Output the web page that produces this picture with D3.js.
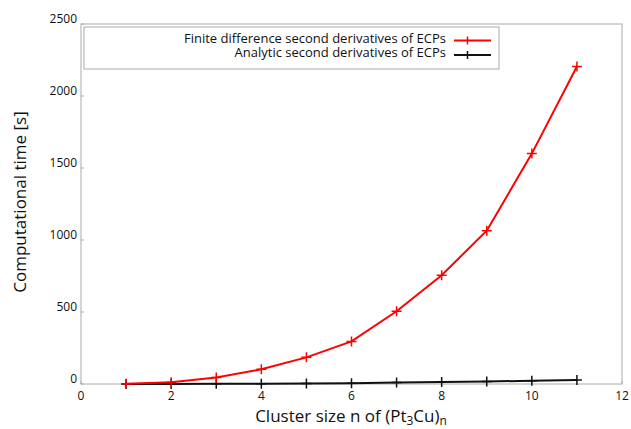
<!DOCTYPE html>
<html>
<head>
<meta charset="utf-8">
<script src="https://cdn.jsdelivr.net/npm/d3@7"></script>
<style>
  body { margin: 0; background: #fff; }
  svg text { font-family: "Open Sans", "Noto Sans", sans-serif; fill: #111; }
</style>
</head>
<body>
<div id="chart"></div>
<script>
// cluster sizes n and timings [s]
var clusterSizes = [1, 2, 3, 4, 5, 6, 7, 8, 9, 10, 11];
var finiteDiffTimes = [2, 12, 45, 102, 185, 296, 505, 755, 1065, 1600, 2205];
var analyticTimes = [0.2, 0.5, 1, 2, 4, 6, 10, 14, 18, 22, 27];
var xTicks = [0, 2, 4, 6, 8, 10, 12];
var yTicks = [0, 500, 1000, 1500, 2000, 2500];
var seriesNames = ["Finite difference second derivatives of ECPs", "Analytic second derivatives of ECPs"];

var W = 631, H = 429;
var m = {left: 81, right: 9, top: 24, bottom: 45};

var svg = d3.select('#chart').append('svg')
    .attr('width', W).attr('height', H);

var x = d3.scaleLinear().domain([0, 12]).range([m.left, W - m.right]);
var y = d3.scaleLinear().domain([0, 2500]).range([H - m.bottom, m.top]);

// frame
svg.append('rect')
    .attr('x', x(0)).attr('y', y(2500))
    .attr('width', x(12) - x(0)).attr('height', y(0) - y(2500))
    .attr('fill', 'none').attr('stroke', '#aaa').attr('stroke-width', 1);

// ticks (inside, short) and labels
var tickCol = '#aaa';
var xAxis = svg.append('g');
xTicks.forEach(function (t) {
    xAxis.append('line')
        .attr('x1', x(t)).attr('x2', x(t))
        .attr('y1', y(0)).attr('y2', y(0) - 3)
        .attr('stroke', tickCol);
    xAxis.append('text')
        .attr('x', x(t)).attr('y', y(0) + 16)
        .attr('text-anchor', 'middle')
        .attr('font-size', 12)
        .text(t);
});
var yAxis = svg.append('g');
yTicks.forEach(function (t) {
    yAxis.append('line')
        .attr('x1', x(0)).attr('x2', x(0) + 3)
        .attr('y1', y(t)).attr('y2', y(t))
        .attr('stroke', tickCol);
    yAxis.append('text')
        .attr('x', x(0) - 4).attr('y', y(t) - 1)
        .attr('text-anchor', 'end')
        .attr('font-size', 12)
        .text(t);
});

// axis labels
var xl = svg.append('text')
    .attr('x', 351).attr('y', 422)
    .attr('text-anchor', 'middle')
    .attr('font-size', 17);
xl.append('tspan').text('Cluster size n of (Pt');
xl.append('tspan').attr('font-size', 12).attr('dy', 3).text('3');
xl.append('tspan').attr('dy', -3).text('Cu)');
xl.append('tspan').attr('font-size', 12).attr('dy', 3).text('n');

svg.append('text')
    .attr('transform', 'translate(26,' + 202 + ') rotate(-90)')
    .attr('text-anchor', 'middle')
    .attr('font-size', 17)
    .text('Computational time [s]');

// series
var line = d3.line().x(d => x(d[0])).y(d => y(d[1]));
var series = [
    {name: seriesNames[1], col: '#111', vals: analyticTimes},
    {name: seriesNames[0], col: '#ff0000', vals: finiteDiffTimes}
];
series.forEach(function (s) {
    var pts = clusterSizes.map((c, i) => [c, s.vals[i]]);
    svg.append('path')
        .attr('d', line(pts))
        .attr('fill', 'none').attr('stroke', s.col).attr('stroke-width', 2);
    var g = svg.append('g');
    pts.forEach(function (p) {
        g.append('path')
            .attr('d', 'M' + (x(p[0]) - 5) + ',' + y(p[1]) + 'h10M' + x(p[0]) + ',' + (y(p[1]) - 5) + 'v10')
            .attr('stroke', s.col).attr('stroke-width', 1.5);
    });
});

// legend
var leg = svg.append('g');
leg.append('rect')
    .attr('x', 84).attr('y', 27).attr('width', 415).attr('height', 42)
    .attr('fill', '#fff').attr('stroke', '#aaa');
[{name: seriesNames[0], col: '#ff0000'}, {name: seriesNames[1], col: '#111'}].forEach(function (s, i) {
    var cy = 40.5 + i * 14.5;
    leg.append('text')
        .attr('x', 446).attr('y', cy + 2)
        .attr('text-anchor', 'end')
        .attr('font-size', 13)
        .text(s.name);
    leg.append('line')
        .attr('x1', 454).attr('x2', 491).attr('y1', cy).attr('y2', cy)
        .attr('stroke', s.col).attr('stroke-width', 2);
    leg.append('path')
        .attr('d', 'M467.5,' + (cy - 4) + 'v8')
        .attr('stroke', s.col).attr('stroke-width', 1.5);
});
</script>
</body>
</html>
